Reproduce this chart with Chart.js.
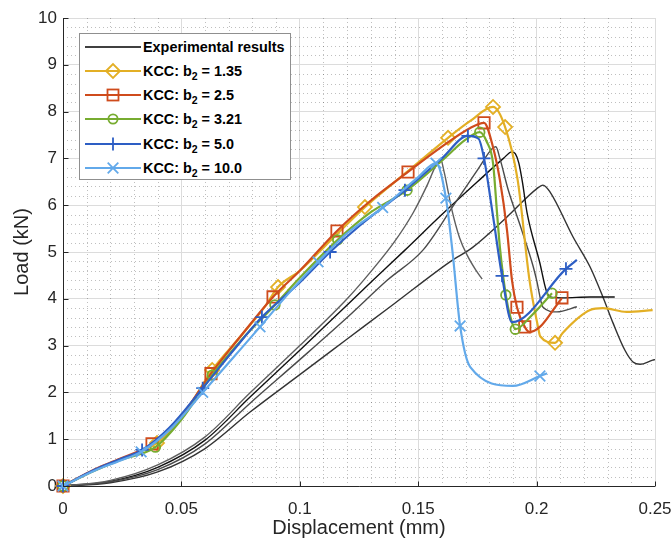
<!DOCTYPE html>
<html><head><meta charset="utf-8">
<script src="https://cdn.jsdelivr.net/npm/chart.js@4.4.0/dist/chart.umd.min.js"></script>
<style>
html,body{margin:0;padding:0;background:#fff;}
#wrap{position:relative;width:672px;height:539px;}
#legend{position:absolute;left:79px;top:33px;width:210px;height:145px;border:1px solid #8f8f8f;background:#fff;font:bold 14.4px "Liberation Sans",Arial,sans-serif;color:#000;}
.row{position:absolute;left:0;height:24px;width:210px;}
.row svg{position:absolute;left:5px;top:0;}
.row span{position:absolute;left:63px;top:0;line-height:24px;white-space:nowrap;}
.row sub{font-size:10.5px;position:relative;top:4px;vertical-align:baseline;line-height:0;}
</style></head>
<body><div id="wrap"><canvas id="c" width="672" height="539"></canvas><div id="legend"></div></div>
<script>
// ---- tick labels / axes ----
const xTickValues = [0, 0.05, 0.1, 0.15, 0.2, 0.25];
const yTickValues = [0,1,2,3,4,5,6,7,8,9,10];
const xMinorStep = 0.01;
const yMinorStep = 0.2;
const xTitle = 'Displacement (mm)';
const yTitle = 'Load (kN)';

// ---- series names ----
const seriesNames = ['Experimental results','KCC: b2 = 1.35','KCC: b2 = 2.5','KCC: b2 = 3.21','KCC: b2 = 5.0','KCC: b2 = 10.0'];

// ---- experimental curves ----
const expCx = [0,0.02,0.04,0.06,0.079,0.1,0.12,0.13,0.14,0.148,0.154,0.1575,0.1595,0.161,0.164,0.1675,0.171,0.1745,0.177];
const expCy = [0,0.12,0.45,1.05,1.99,3.0,4.0,4.58,5.22,5.85,6.45,6.85,6.97,6.7,5.95,5.3,4.9,4.6,4.42];
const expAx = [0,0.02,0.04,0.06,0.079,0.1,0.12,0.131,0.1444,0.16,0.175,0.186,0.1895,0.191,0.1925,0.194,0.196,0.2014,0.204,0.2057,0.211,0.2226,0.233];
const expAy = [0,0.1,0.4,0.98,1.9,2.9,3.87,4.4,5.04,5.8,6.5,7.0,7.14,7.1,6.9,6.5,5.83,4.76,4.19,4.04,4.02,4.04,4.04];
const expBx = [0,0.02,0.04,0.06,0.079,0.1,0.12,0.137,0.152,0.165,0.175,0.1815,0.1828,0.1845,0.188,0.1935,0.1985,0.2,0.2027,0.2086,0.217];
const expBy = [0,0.09,0.35,0.9,1.77,2.7,3.6,4.4,5.04,6.0,6.75,7.22,7.25,7.0,6.33,5.5,4.7,4.4,3.82,3.72,3.83];
const expDx = [0,0.02,0.04,0.06,0.079,0.1,0.12,0.14,0.1634,0.173,0.1875,0.2,0.2027,0.2057,0.2154,0.2226,0.228,0.2323,0.2373,0.2407,0.2437,0.249,0.25];
const expDy = [0,0.07,0.3,0.8,1.58,2.38,3.14,3.9,4.79,5.1,5.75,6.35,6.43,6.28,5.32,4.68,4.04,3.48,2.9,2.65,2.6,2.69,2.7];

// ---- KCC b2 = 1.35 ----
const k135x = [0,0.0135,0.024,0.032,0.0397,0.05,0.063,0.075,0.0855,0.0908,0.1,0.115,0.1275,0.145,0.1626,0.172,0.1816,0.1867,0.192,0.197,0.2006,0.2015,0.2078,0.211,0.2226,0.228,0.238,0.249];
const k135y = [0,0.34,0.56,0.72,0.92,1.45,2.48,3.2,3.85,4.25,4.6,5.35,5.96,6.7,7.44,7.8,8.1,7.67,6.54,4.4,3.4,3.2,3.06,3.27,3.76,3.8,3.72,3.76];
const k135marks = [0,4,6,9,12,14,16,17,22];
// ---- KCC b2 = 2.5 ----
const k25x = [0,0.0135,0.024,0.0376,0.05,0.0625,0.075,0.0887,0.1,0.1157,0.13,0.1457,0.16,0.172,0.1778,0.1816,0.1845,0.1875,0.1896,0.1917,0.195,0.197,0.2014,0.207,0.2107];
const k25y = [0,0.36,0.58,0.9,1.5,2.4,3.2,4.04,4.6,5.45,6.1,6.71,7.25,7.65,7.76,7.24,6.54,5.47,4.4,3.82,3.4,3.29,3.4,3.76,4.02];
const k25marks = [0,3,5,7,9,11,14,19,20,24];
// ---- KCC b2 = 3.21 ----
const k321x = [0,0.0135,0.024,0.039,0.05,0.063,0.075,0.0895,0.1,0.116,0.13,0.1453,0.16,0.17,0.176,0.179,0.1816,0.1833,0.1845,0.187,0.189,0.191,0.198,0.2065];
const k321y = [0,0.33,0.55,0.83,1.42,2.37,3.1,3.87,4.45,5.26,5.85,6.32,6.95,7.4,7.56,7.35,6.9,5.83,5.1,4.08,3.6,3.35,3.65,4.12];
const k321marks = [0,3,5,7,9,11,14,19,21,23];
// ---- KCC b2 = 5.0 ----
const k50x = [0,0.0135,0.024,0.0334,0.045,0.059,0.072,0.084,0.1,0.1128,0.125,0.1444,0.16,0.171,0.1755,0.1778,0.1815,0.1854,0.1896,0.2124,0.217];
const k50y = [0,0.35,0.57,0.77,1.25,2.09,2.9,3.61,4.35,5.0,5.55,6.32,7.0,7.48,7.42,7.0,5.8,4.49,3.5,4.64,4.83];
const k50marks = [0,3,5,7,9,11,13,15,17,19];
// ---- KCC b2 = 10.0 ----
const k100x = [0,0.0135,0.024,0.033,0.045,0.059,0.072,0.0832,0.095,0.1077,0.12,0.135,0.15,0.1575,0.1617,0.1645,0.1677,0.172,0.19,0.2014,0.2044];
const k100y = [0,0.33,0.54,0.73,1.2,2.0,2.75,3.4,4.1,4.79,5.4,5.95,6.6,6.9,6.15,5.0,3.42,2.54,2.14,2.35,2.41];
const k100marks = [0,3,5,7,9,11,13,14,16,19];

const FONT = '"Liberation Sans", Arial, sans-serif';
const INK = '#262626';
const colors = {y:'#E3AF25', r:'#CF4B1C', g:'#77AC30', b:'#2D5EC4', lb:'#62A9EA'};

function pts(xs, ys){ return xs.map((x,i)=>({x:x, y:ys[i]})); }

function expSet(xs, ys, col){
  return {data: pts(xs,ys), borderColor: col, borderWidth: 1.4, pointRadius: 0, cubicInterpolationMode:'monotone', fill:false, order: 10};
}
function kccSet(xs, ys, marks, col, style, r, order){
  return {data: pts(xs,ys), borderColor: col, borderWidth: 2.2, cubicInterpolationMode:'monotone', fill:false,
    pointStyle: style, pointBorderColor: col, pointBackgroundColor:'rgba(0,0,0,0)', pointBorderWidth: 1.8,
    pointRadius: ctx => marks.includes(ctx.dataIndex) ? r : 0, pointHoverRadius: 0, order: order, clip: false};
}

const datasets = [
  expSet(expCx, expCy, '#5e5e5e'),
  expSet(expBx, expBy, '#4a4a4a'),
  expSet(expAx, expAy, '#111111'),
  expSet(expDx, expDy, '#333333'),
  kccSet(k135x, k135y, k135marks, colors.y, 'rectRot', 7, 5),
  kccSet(k25x, k25y, k25marks, colors.r, 'rect', 8, 4),
  kccSet(k321x, k321y, k321marks, colors.g, 'circle', 4.8, 3),
  kccSet(k50x, k50y, k50marks, colors.b, 'cross', 6.5, 2),
  kccSet(k100x, k100y, k100marks, colors.lb, 'crossRot', 7.5, 1)
];

function fmt(v){ return parseFloat(Number(v).toFixed(3)).toString(); }

const decor = {
  id: 'decor',
  beforeDatasetsDraw(chart){
    const {ctx, chartArea:a, scales:{x, y}} = chart;
    ctx.save();
    ctx.strokeStyle = 'rgba(0,0,0,0.25)';
    ctx.lineWidth = 1;
    ctx.setLineDash([1,3]);
    const nx = Math.round((x.max - x.min)/xMinorStep);
    for (let i=1;i<nx;i++){
      const v = x.min + i*xMinorStep;
      if (xTickValues.some(t => Math.abs(t-v) < 1e-9)) continue;
      const px = Math.round(x.getPixelForValue(v)) + 0.5;
      ctx.beginPath(); ctx.moveTo(px, a.top); ctx.lineTo(px, a.bottom); ctx.stroke();
    }
    const ny = Math.round((y.max - y.min)/yMinorStep);
    for (let j=1;j<ny;j++){
      const v = y.min + j*yMinorStep;
      if (yTickValues.some(t => Math.abs(t-v) < 1e-9)) continue;
      const py = Math.round(y.getPixelForValue(v)) + 0.5;
      ctx.beginPath(); ctx.moveTo(a.left, py); ctx.lineTo(a.right, py); ctx.stroke();
    }
    ctx.restore();
  },
  afterDatasetsDraw(chart){
    const {ctx, chartArea:a, scales:{x, y}} = chart;
    ctx.save();
    ctx.strokeStyle = INK; ctx.lineWidth = 1; ctx.setLineDash([]);
    const L = Math.round(a.left)+0.5, B = Math.round(a.bottom)+0.5;
    ctx.beginPath(); ctx.moveTo(L, a.top); ctx.lineTo(L, B); ctx.lineTo(a.right, B); ctx.stroke();
    xTickValues.forEach(v => { const px = Math.round(x.getPixelForValue(v))+0.5; ctx.beginPath(); ctx.moveTo(px, B); ctx.lineTo(px, B-5); ctx.stroke(); });
    yTickValues.forEach(v => { const py = Math.round(y.getPixelForValue(v))+0.5; ctx.beginPath(); ctx.moveTo(L, py); ctx.lineTo(L+5, py); ctx.stroke(); });
    ctx.restore();
  }
};

new Chart(document.getElementById('c'), {
  type: 'line',
  data: { datasets: datasets },
  plugins: [decor],
  options: {
    responsive: false, animation: false, devicePixelRatio: 1,
    layout: { padding: { left: 0, right: 17, top: 18, bottom: 0 } },
    plugins: { legend: { display: false }, tooltip: { enabled: false } },
    scales: {
      x: {
        type: 'linear', min: 0, max: 0.25,
        border: { display: false },
        grid: { color: '#dcdcdc', lineWidth: 1, drawTicks: false },
        afterBuildTicks: s => { s.ticks = xTickValues.map(v => ({value: v})); },
        ticks: { padding: 13, color: INK, font: { family: FONT, size: 17 }, callback: v => fmt(v), maxRotation: 0, autoSkip: false },
        title: { display: true, text: xTitle, color: INK, font: { family: FONT, size: 20 }, padding: { top: 0, bottom: -1 } },
        afterFit: s => { s.height = 53; s.paddingLeft = 0; s.paddingRight = 0; }
      },
      y: {
        type: 'linear', min: 0, max: 10,
        border: { display: false },
        grid: { color: '#dcdcdc', lineWidth: 1, drawTicks: false },
        afterBuildTicks: s => { s.ticks = yTickValues.map(v => ({value: v})); },
        ticks: { padding: 6, color: INK, font: { family: FONT, size: 17 }, callback: v => fmt(v), autoSkip: false },
        title: { display: true, text: yTitle, color: INK, font: { family: FONT, size: 20 }, padding: { top: 10, bottom: 0 } },
        afterFit: s => { s.width = 63; s.paddingTop = 0; s.paddingBottom = 0; }
      }
    }
  }
});

// ---- legend (HTML) ----
const legendMarks = [
  {col:'#000000', mk:''},
  {col:colors.y, mk:'<polygon points="21,12 28,5 35,12 28,19" fill="none" stroke="C" stroke-width="1.8"/>'},
  {col:colors.r, mk:'<rect x="22.5" y="6.5" width="11" height="11" fill="none" stroke="C" stroke-width="1.8"/>'},
  {col:colors.g, mk:'<circle cx="28" cy="12" r="4.6" fill="none" stroke="C" stroke-width="1.8"/>'},
  {col:colors.b, mk:'<line x1="28" y1="5.5" x2="28" y2="18.5" stroke="C" stroke-width="1.8"/><line x1="21.5" y1="12" x2="34.5" y2="12" stroke="C" stroke-width="1.8"/>'},
  {col:colors.lb, mk:'<line x1="22.7" y1="6.7" x2="33.3" y2="17.3" stroke="C" stroke-width="1.8"/><line x1="22.7" y1="17.3" x2="33.3" y2="6.7" stroke="C" stroke-width="1.8"/>'}
];
const lg = document.getElementById('legend');
seriesNames.forEach((name, i) => {
  const row = document.createElement('div');
  row.className = 'row';
  row.style.top = (0.5 + i*24.3) + 'px';
  const m = legendMarks[i];
  const svg = '<svg width="56" height="24" viewBox="0 0 56 24"><line x1="0" y1="12" x2="56" y2="12" stroke="' + m.col + '" stroke-width="' + (i===0?1.6:2.2) + '"/>' + m.mk.split('"C"').join('"' + m.col + '"') + '</svg>';
  const label = name.replace('b2', 'b<sub>2</sub>');
  row.innerHTML = svg + '<span>' + label + '</span>';
  lg.appendChild(row);
});
</script>
</body></html>
